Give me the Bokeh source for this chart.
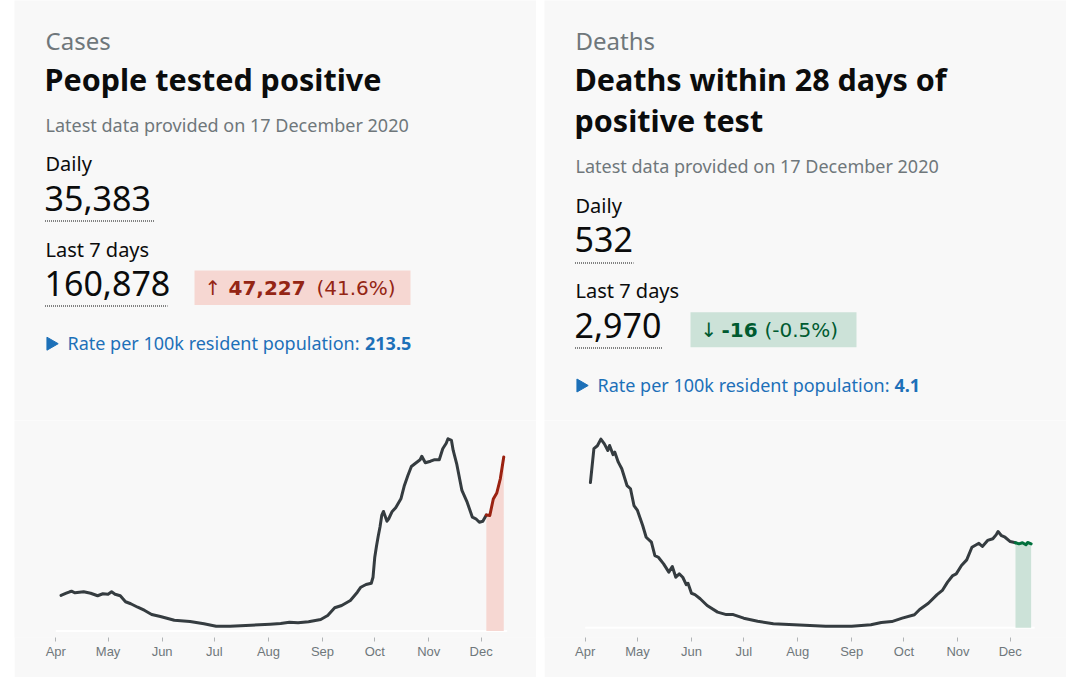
import numpy as np
import pandas as pd
from bokeh.plotting import figure
from bokeh.models import Range1d, FixedTicker, DatetimeTickFormatter, Spacer
from bokeh.layouts import row, column
from bokeh.core.properties import value
from bokeh.embed import file_html
from bokeh.resources import INLINE

# ---------------- data ----------------
MONTH_TICKS = ["2020-04-01", "2020-05-01", "2020-06-01", "2020-07-01", "2020-08-01",
               "2020-09-01", "2020-10-01", "2020-11-01", "2020-12-01"]

CASE_DATES = [
    "2020-04-04", "2020-04-07", "2020-04-09", "2020-04-10", "2020-04-12", "2020-04-17",
    "2020-04-21", "2020-04-25", "2020-04-28", "2020-05-01", "2020-05-03", "2020-05-05",
    "2020-05-08", "2020-05-11", "2020-05-14", "2020-05-18", "2020-05-22", "2020-05-26",
    "2020-05-31", "2020-06-08", "2020-06-17", "2020-06-25", "2020-07-02", "2020-07-10",
    "2020-07-22", "2020-08-02", "2020-08-08", "2020-08-13", "2020-08-18", "2020-08-24",
    "2020-08-31", "2020-09-04", "2020-09-08", "2020-09-12", "2020-09-17", "2020-09-21",
    "2020-09-23", "2020-09-26", "2020-09-29", "2020-09-30", "2020-10-01", "2020-10-02",
    "2020-10-03", "2020-10-04", "2020-10-05", "2020-10-06", "2020-10-08", "2020-10-09",
    "2020-10-11", "2020-10-13", "2020-10-16", "2020-10-18", "2020-10-20", "2020-10-22",
    "2020-10-24", "2020-10-27", "2020-10-28", "2020-10-30", "2020-11-02", "2020-11-04",
    "2020-11-07", "2020-11-09", "2020-11-11", "2020-11-12", "2020-11-14", "2020-11-15",
    "2020-11-17", "2020-11-20", "2020-11-23", "2020-11-26", "2020-11-28", "2020-11-30",
    "2020-12-02", "2020-12-04", "2020-12-06", "2020-12-08", "2020-12-10", "2020-12-12",
    "2020-12-14"]
CASES = [
    4620, 4910, 5100, 5170, 4970, 5100,
    4910, 4580, 4840, 4780, 5100, 4780,
    4580, 3800, 3540, 3090, 2670, 2150,
    1890, 1400, 1240, 940, 620, 620,
    750, 880, 980, 1140, 1070, 1200,
    1500, 2020, 3020, 3320, 3970, 5040,
    5690, 6050, 6210, 6990, 9590, 11050,
    12350, 13520, 15020, 15540, 14270, 14590,
    15540, 16020, 17190, 18920, 20220, 21390,
    21740, 22260, 22720, 21870, 22070, 22260,
    22260, 23690, 24410, 24990, 24770, 23470,
    21740, 18270, 16740, 14790, 14590, 14140,
    14270, 15080, 15020, 17160, 17940, 19760,
    22620]

DEATH_DATES = [
    "2020-04-04", "2020-04-06", "2020-04-08", "2020-04-10", "2020-04-12", "2020-04-14",
    "2020-04-15", "2020-04-17", "2020-04-18", "2020-04-20", "2020-04-22", "2020-04-25",
    "2020-04-27", "2020-04-29", "2020-05-01", "2020-05-04", "2020-05-06", "2020-05-09",
    "2020-05-11", "2020-05-13", "2020-05-16", "2020-05-19", "2020-05-21", "2020-05-23",
    "2020-05-25", "2020-05-27", "2020-05-29", "2020-05-30", "2020-06-01", "2020-06-03",
    "2020-06-06", "2020-06-10", "2020-06-16", "2020-06-21", "2020-06-25", "2020-07-01",
    "2020-07-09", "2020-07-18", "2020-07-30", "2020-08-08", "2020-08-17", "2020-09-01",
    "2020-09-12", "2020-09-18", "2020-09-24", "2020-09-30", "2020-10-07", "2020-10-10",
    "2020-10-15", "2020-10-20", "2020-10-23", "2020-10-26", "2020-10-29", "2020-10-31",
    "2020-11-03", "2020-11-06", "2020-11-09", "2020-11-13", "2020-11-15", "2020-11-18",
    "2020-11-21", "2020-11-23", "2020-11-24", "2020-11-26", "2020-11-28", "2020-12-01",
    "2020-12-04", "2020-12-06", "2020-12-08", "2020-12-10", "2020-12-11", "2020-12-13"]
DEATHS = [
    770, 950, 965, 1000, 975, 940,
    966, 918, 931, 878, 843, 754,
    737, 648, 622, 542, 480, 454,
    383, 374, 339, 295, 325, 268,
    286, 268, 229, 236, 183, 176,
    154, 118, 83, 70, 70, 51,
    35, 21, 16, 12, 8, 8,
    16, 28, 33, 51, 69, 97,
    130, 176, 198, 242, 277, 286,
    330, 360, 427, 448, 431, 463,
    472, 494, 510, 488, 480, 457,
    451, 445, 451, 440, 452, 445]

HIGHLIGHT_FROM = "2020-12-04"

CASES_TEXT = dict(section="Cases", title=["People tested positive"],
                  latest="Latest data provided on 17 December 2020",
                  daily="35,383", week="160,878", arrow="\u2191", change="47,227",
                  pct="(41.6%)", rate_label="Rate per 100k resident population: ", rate="213.5")
DEATHS_TEXT = dict(section="Deaths", title=["Deaths within 28 days of", "positive test"],
                   latest="Latest data provided on 17 December 2020",
                   daily="532", week="2,970", arrow="\u2193", change="-16",
                   pct="(-0.5%)", rate_label="Rate per 100k resident population: ", rate="4.1")

# ---------------- style ----------------
BG = "#f8f8f8"
BLACK = "#0b0c0c"
GREY = "#6f777b"
BLUE = "#1d70b8"
LINE = "#353c40"
CARD_W = 522
HEAD_H = 420
CHART_H = 257
FONT = "Noto Sans"


def blank(width, height, xr, yr):
    p = figure(width=width, height=height, x_range=xr, y_range=yr,
               x_axis_location=None, y_axis_location=None,
               output_backend="svg", toolbar_location=None,
               min_border=0, outline_line_color=None,
               background_fill_color=BG, border_fill_color=BG)
    p.grid.visible = False
    return p


def txt(p, x, y, s, size, color, font=FONT, style="normal"):
    p.text(x=[x], y=[y], text=[s], text_font=value(font),
           text_font_size=value(f"{size}px"), text_font_style=style,
           text_color=color, text_baseline="middle", text_align="left")


def header(left, T, ys, box, box_fill, accent_dark):
    p = blank(CARD_W, HEAD_H, Range1d(left, left + CARD_W), Range1d(HEAD_H, 0))
    x0 = left + 31
    txt(p, x0, ys["section"], T["section"], 24, GREY)
    for i, line in enumerate(T["title"]):
        txt(p, x0 - 1, ys["title"][i], line, 30.5, BLACK, style="bold")
    txt(p, x0, ys["latest"], T["latest"], 18, GREY)
    txt(p, x0, ys["daily_l"], "Daily", 20, BLACK)
    txt(p, x0 - 1, ys["daily"], T["daily"], 34, BLACK)
    p.segment(x0=[x0 - 0.5], y0=[ys["daily_u"]], x1=[ys["daily_ux"]], y1=[ys["daily_u"]],
              line_color=BLACK, line_width=1, line_dash="1 1")
    txt(p, x0, ys["week_l"], "Last 7 days", 20, BLACK)
    txt(p, x0 - 1, ys["week"], T["week"], 34, BLACK)
    p.segment(x0=[x0 - 0.5], y0=[ys["week_u"]], x1=[ys["week_ux"]], y1=[ys["week_u"]],
              line_color=BLACK, line_width=1, line_dash="1 1")
    bl, br, bt, bb = box
    p.quad(left=[bl], right=[br], top=[bt], bottom=[bb], fill_color=box_fill, line_color=None)
    by = (bt + bb) / 2
    txt(p, bl + 10, by, T["arrow"], 20, accent_dark, font="DejaVu Sans")
    txt(p, ys["chg_x"], by, T["change"], 20, accent_dark, font="DejaVu Sans", style="bold")
    txt(p, ys["pct_x"], by, T["pct"], 20, accent_dark, font="DejaVu Sans")
    p.scatter(x=[x0 + 5.2], y=[ys["rate"] + 0.5], marker="triangle", size=13,
              angle=-np.pi / 2, fill_color=BLUE, line_color=BLUE)
    txt(p, x0 + 22, ys["rate"], T["rate_label"], 18, BLUE)
    txt(p, ys["rate_x"], ys["rate"], T["rate"], 18, BLUE, style="bold")
    return p


def chart(dates, vals, left, apr_x, px_day, zero_y, unit, hl_line, hl_fill):
    d = pd.to_datetime(pd.Series(dates))
    v = pd.Series(vals, dtype=float)
    apr1 = pd.Timestamp(MONTH_TICKS[0])
    xr = Range1d((apr1 - pd.Timedelta(days=(apr_x - left) / px_day)).to_pydatetime(),
                 (apr1 + pd.Timedelta(days=(left + CARD_W - apr_x) / px_day)).to_pydatetime())
    yr = Range1d(-(637 - zero_y) * unit, (zero_y - 420) * unit)
    p = figure(width=CARD_W, height=CHART_H, x_axis_type="datetime", x_range=xr, y_range=yr,
               y_axis_location=None, output_backend="svg", toolbar_location=None,
               min_border_left=0, min_border_right=0, min_border_top=0, min_border_bottom=40,
               background_fill_color=BG, border_fill_color=BG, outline_line_color=None)
    p.grid.visible = False
    ax = p.xaxis[0]
    ax.ticker = FixedTicker(ticks=[pd.Timestamp(m).value / 1e6 for m in MONTH_TICKS])
    ax.formatter = DatetimeTickFormatter(days="%b", months="%b", years="%b")
    ax.axis_line_color = None
    ax.major_tick_in = 0
    ax.major_tick_out = 4
    ax.major_tick_line_color = "#b1b4b6"
    ax.minor_tick_line_color = None
    ax.major_label_text_font = "Liberation Sans"
    ax.major_label_text_font_size = "13px"
    ax.major_label_text_color = GREY
    ax.major_label_standoff = 2

    # white baseline from first month tick to just past the last point
    p.line(x=[apr1, d.iloc[-1] + pd.Timedelta(days=2)], y=[0, 0], line_color="white", line_width=2)

    hl = pd.Timestamp(HIGHLIGHT_FROM)
    m_hl = d >= hl
    m_main = d <= hl
    p.varea(x=d[m_hl], y1=0, y2=v[m_hl], fill_color=hl_fill)
    p.line(x=d[m_main], y=v[m_main], line_color=LINE, line_width=3,
           line_join="round", line_cap="round")
    p.line(x=d[m_hl], y=v[m_hl], line_color=hl_line, line_width=3,
           line_join="round", line_cap="round")
    return p


def border():
    p = figure(width=CARD_W, height=2, x_range=Range1d(0, 1), y_range=Range1d(0, 1),
               x_axis_location=None, y_axis_location=None, output_backend="svg",
               toolbar_location=None, min_border=0, outline_line_color=None,
               background_fill_color="#b1b4b6", border_fill_color="#b1b4b6")
    p.grid.visible = False
    return p


# vertical centres of the text lines (page pixels)
ys_left = dict(section=40, title=[78.5], latest=124.3, daily_l=163, daily=198,
               daily_u=220.5, daily_ux=154.5, week_l=248.5, week=283, week_u=305.5,
               week_ux=167, chg_x=228, pct_x=316, rate=342.7, rate_x=364.5)
ys_right = dict(section=40, title=[78.5, 119.5], latest=165.3, daily_l=204.7, daily=239.3,
                daily_u=262.5, daily_ux=633, week_l=289.7, week=325, week_u=347.5,
                week_ux=662, chg_x=721, pct_x=764, rate=384.5, rate_x=894)

h_left = header(14, CASES_TEXT, ys_left, (194, 410, 270, 304.5), "#f6d7d2", "#942514")
h_right = header(544, DEATHS_TEXT, ys_right, (690, 856, 311.7, 346.7), "#cce2d8", "#005a30")

c_left = chart(CASE_DATES, CASES, 14, 55.3, 1.743, 630.5, 130.0, "#9b2211", "#f6d7d2")
c_right = chart(DEATH_DATES, DEATHS, 544, 584.7, 1.742, 627.3, 5.3, "#00703c", "#cce2d8")

TOTAL_H = HEAD_H + CHART_H + 2
left_col = column(h_left, c_left, border(), spacing=0)
right_col = column(h_right, c_right, border(), spacing=0)
layout = row(Spacer(width=14, height=TOTAL_H), left_col, Spacer(width=8, height=TOTAL_H), right_col,
             spacing=0)

open("out.html", "w").write(file_html(layout, INLINE))
